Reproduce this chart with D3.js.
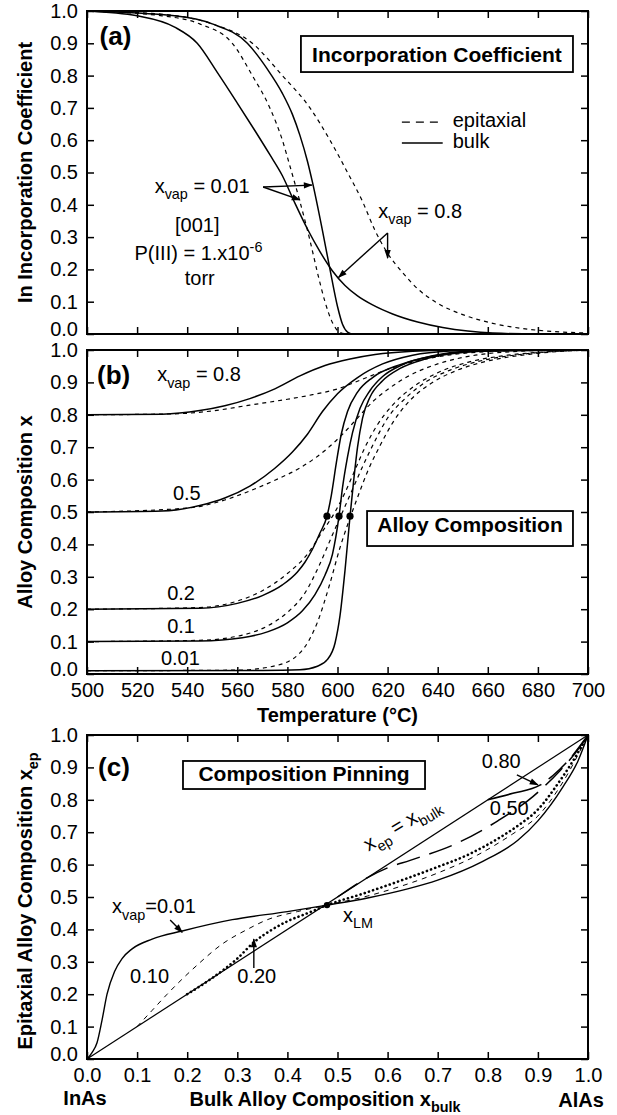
<!DOCTYPE html>
<html>
<head>
<meta charset="utf-8">
<script src="https://cdn.jsdelivr.net/npm/d3@7"></script>
<style>
  body { margin: 0; background: #fff; }
  svg { display: block; font-family: "Liberation Sans", Arial, Helvetica, sans-serif; }
</style>
</head>
<body>
<svg width="617" height="1115"></svg>
<script>
// ---- tick values ----
const tempTicks = d3.range(500, 701, 20);
const fracTicks = d3.range(0, 11).map((i) => i / 10);

// ---- (a) In incorporation coefficient vs temperature [T, value] ----
const incBulk08 = [[500,1],[520,0.985],[535,0.95],[544,0.9],[552,0.81],[560,0.715],[567,0.63],[573,0.555],[578,0.49],[583,0.405],[588,0.325],[593,0.255],[598,0.195],[603,0.15],[608,0.118],[614,0.09],[622,0.062],[632,0.037],[642,0.02],[652,0.009],[662,0.003],[680,0],[700,0]];
const incEpi08 = [[500,1],[530,0.99],[550,0.96],[566,0.9],[578,0.8],[589,0.7],[597,0.6],[604,0.5],[610,0.41],[615,0.32],[620,0.25],[626,0.19],[632,0.14],[640,0.095],[650,0.06],[662,0.033],[676,0.015],[690,0.006],[700,0.003]];
const incBulk001 = [[500,1],[535,0.985],[550,0.96],[564,0.9],[572,0.82],[578,0.745],[582,0.68],[585,0.615],[588,0.535],[590,0.47],[594,0.32],[597,0.2],[600,0.085],[602,0.03],[604,0.006],[606,0],[700,0]];
const incEpi001 = [[500,1],[530,0.985],[545,0.96],[558,0.9],[566,0.8],[573,0.7],[578,0.6],[581,0.52],[585,0.41],[589,0.29],[592,0.19],[595,0.1],[598,0.035],[601,0.005],[604,0],[700,0]];

// ---- (b) alloy composition vs temperature [T, x] ----
const alloyBulk08 = [[500,0.8],[530,0.802],[545,0.813],[555,0.828],[565,0.85],[575,0.88],[585,0.92],[595,0.952],[605,0.972],[615,0.986],[630,0.996],[650,1],[700,1]];
const alloyEpi08 = [[500,0.8],[535,0.803],[550,0.812],[565,0.83],[580,0.848],[590,0.862],[600,0.88],[610,0.91],[620,0.94],[630,0.963],[645,0.985],[660,0.995],[680,1],[700,1]];
const alloyBulk05 = [[500,0.5],[530,0.503],[545,0.52],[555,0.543],[565,0.58],[575,0.635],[582,0.685],[588,0.74],[594,0.81],[600,0.865],[608,0.915],[618,0.957],[630,0.984],[645,0.997],[660,1],[700,1]];
const alloyEpi05 = [[500,0.5],[540,0.512],[555,0.537],[565,0.565],[575,0.598],[585,0.636],[595,0.69],[602,0.74],[608,0.79],[614,0.84],[620,0.878],[628,0.918],[640,0.957],[655,0.984],[670,0.995],[690,1],[700,1]];
const alloyBulk02 = [[500,0.2],[545,0.203],[560,0.218],[570,0.242],[578,0.275],[584,0.315],[587,0.345],[590,0.385],[593,0.435],[595.8,0.487],[597.5,0.55],[599.5,0.65],[601.5,0.74],[604,0.81],[608,0.87],[614,0.915],[625,0.955],[640,0.984],[660,0.998],[700,1]];
const alloyEpi02 = [[500,0.2],[545,0.205],[560,0.225],[570,0.257],[580,0.31],[588,0.37],[594,0.44],[599,0.5],[603,0.56],[607,0.63],[611,0.7],[616,0.77],[622,0.83],[630,0.885],[640,0.93],[652,0.962],[668,0.984],[685,0.995],[700,1]];
const alloyBulk01 = [[500,0.1],[545,0.102],[562,0.112],[572,0.13],[580,0.158],[586,0.195],[591,0.245],[595,0.305],[598,0.37],[600.6,0.487],[602,0.575],[604,0.67],[606,0.745],[609,0.82],[613,0.875],[618,0.918],[626,0.955],[638,0.982],[652,0.996],[700,1]];
const alloyEpi01 = [[500,0.1],[545,0.104],[562,0.12],[572,0.148],[580,0.19],[587,0.25],[593,0.34],[598,0.43],[602,0.5],[606,0.57],[610,0.64],[615,0.72],[620,0.79],[627,0.85],[635,0.9],[645,0.938],[658,0.968],[675,0.988],[700,1]];
const alloyBulk001 = [[500,0.01],[570,0.011],[585,0.013],[592,0.024],[596,0.045],[599,0.095],[601,0.18],[603,0.32],[605,0.487],[606.5,0.6],[608,0.7],[610,0.79],[613,0.855],[618,0.905],[625,0.943],[635,0.972],[650,0.992],[670,1],[700,1]];
const alloyEpi001 = [[500,0.01],[560,0.012],[575,0.025],[585,0.065],[592,0.16],[597,0.28],[601,0.39],[604,0.46],[608,0.545],[612,0.625],[617,0.705],[622,0.775],[629,0.845],[637,0.895],[647,0.935],[660,0.966],[678,0.988],[700,1]];
const pinDots = [[595.8,0.487],[600.6,0.487],[605,0.487]];

// ---- (c) epitaxial vs bulk composition [x_bulk, x_ep] ----
const diagonal = [[0,0],[1,1]];
const pinVap001 = [[0,0],[0.01,0.02],[0.02,0.05],[0.03,0.12],[0.04,0.2],[0.055,0.27],[0.07,0.31],[0.09,0.34],[0.13,0.37],[0.19,0.395],[0.29,0.43],[0.4,0.455],[0.479,0.475],[0.56,0.497],[0.64,0.525],[0.7,0.552],[0.79,0.61],[0.86,0.675],[0.9,0.735],[0.95,0.84],[0.98,0.92],[1,1]];
const pinVap010 = [[0.1,0.1],[0.13,0.15],[0.16,0.2],[0.22,0.29],[0.27,0.355],[0.32,0.4],[0.36,0.43],[0.42,0.455],[0.479,0.475],[0.56,0.503],[0.63,0.535],[0.7,0.574],[0.78,0.63],[0.85,0.695],[0.9,0.75],[0.95,0.855],[1,1]];
const pinVap020 = [[0.2,0.2],[0.25,0.25],[0.3,0.31],[0.333,0.36],[0.37,0.4],[0.4,0.425],[0.44,0.45],[0.479,0.475],[0.55,0.51],[0.625,0.55],[0.7,0.593],[0.76,0.63],[0.82,0.68],[0.86,0.72],[0.9,0.77],[0.94,0.85],[0.97,0.92],[1,1]];
const pinVap050 = [[0.5,0.5],[0.56,0.56],[0.6,0.59],[0.645,0.613],[0.74,0.667],[0.82,0.735],[0.89,0.81],[0.944,0.89],[0.975,0.945],[1,1]];
const pinVap080 = [[0.8,0.8],[0.85,0.82],[0.904,0.845],[0.93,0.875],[0.96,0.92],[1,1]];
const xLM = [[0.479,0.475]];

const FONT = '"Liberation Sans", Arial, Helvetica, sans-serif';
const svg = d3.select("svg");

// arrow head
svg.append("defs").append("marker")
  .attr("id", "arr")
  .attr("viewBox", "0 0 10 10")
  .attr("refX", 9).attr("refY", 5)
  .attr("markerUnits", "userSpaceOnUse")
  .attr("markerWidth", 11).attr("markerHeight", 9)
  .attr("orient", "auto")
  .append("path").attr("d", "M0,1.5L10,5L0,8.5Z").attr("fill", "#000");

// scales
const xT = d3.scaleLinear().domain([500, 700]).range([87, 588]);
const yA = d3.scaleLinear().domain([0, 1]).range([334, 11]);
const yB = d3.scaleLinear().domain([0, 1]).range([674, 350]);
const xC = d3.scaleLinear().domain([0, 1]).range([87, 588]);
const yC = d3.scaleLinear().domain([0, 1]).range([1059, 735]);

function drawAxes(x, y, xTicks, xFmt) {
  const [yb, yt] = y.range();
  const [xl, xr] = x.range();
  const g = svg.append("g");
  const fix = (s) => s.attr("font-size", 20).attr("font-family", FONT);
  g.append("g").attr("transform", `translate(0,${yb})`)
    .call(d3.axisBottom(x).tickValues(xTicks).tickSizeInner(-7).tickSizeOuter(0).tickPadding(9).tickFormat(xFmt || (() => "")))
    .call(fix);
  g.append("g").attr("transform", `translate(0,${yt})`)
    .call(d3.axisTop(x).tickValues(xTicks).tickSizeInner(-7).tickSizeOuter(0).tickFormat(() => ""));
  const left = g.append("g").attr("transform", `translate(${xl},0)`)
    .call(d3.axisLeft(y).tickValues(fracTicks).tickSizeInner(-7).tickSizeOuter(0).tickPadding(9).tickFormat(d3.format(".1f")))
    .call(fix);
  // the 0.0 label sits a little above its tick, as in the print
  left.selectAll(".tick text").filter((d) => d === 0).attr("dy", "0.05em");
  g.append("g").attr("transform", `translate(${xr},0)`)
    .call(d3.axisRight(y).tickValues(fracTicks).tickSizeInner(-7).tickSizeOuter(0).tickFormat(() => ""));
  g.selectAll(".domain").remove();
  g.selectAll(".tick line").attr("stroke", "#000").attr("stroke-width", 1.5);
  g.selectAll(".tick text").attr("fill", "#000");
  g.append("rect")
    .attr("x", xl).attr("y", yt)
    .attr("width", xr - xl).attr("height", yb - yt)
    .attr("fill", "none").attr("stroke", "#000").attr("stroke-width", 2);
}

// text with sub / superscripts: parts are strings or [text, "sub"|"sup"]
function rich(sel, parts, size) {
  let shift = 0;
  parts.forEach((p) => {
    const [txt, kind] = Array.isArray(p) ? p : [p, null];
    const target = kind === "sub" ? size * 0.32 : kind === "sup" ? -size * 0.42 : 0;
    sel.append("tspan")
      .attr("dy", target - shift)
      .attr("font-size", kind ? size * 0.72 : size)
      .text(txt);
    shift = target;
  });
  return sel;
}

function label(x, y, px, py, parts, opt = {}) {
  const size = opt.size || 20;
  const t = svg.append("text")
    .attr("x", x(px)).attr("y", y(py))
    .attr("font-size", size)
    .attr("font-weight", opt.bold ? "bold" : null)
    .attr("text-anchor", opt.anchor || "start");
  return rich(t, parts, size);
}

function boxLabel(x, y, box, text) {
  svg.append("rect")
    .attr("x", x(box[0])).attr("y", y(box[3]))
    .attr("width", x(box[1]) - x(box[0])).attr("height", y(box[2]) - y(box[3]))
    .attr("fill", "#fff").attr("stroke", "#000").attr("stroke-width", 1.8);
  svg.append("text")
    .attr("x", (x(box[0]) + x(box[1])) / 2).attr("y", y(box[4]))
    .attr("text-anchor", "middle").attr("font-size", 21).attr("font-weight", "bold")
    .text(text);
}

function arrows(x, y, list) {
  svg.append("g").selectAll("line").data(list).join("line")
    .attr("x1", (d) => x(d[0][0])).attr("y1", (d) => y(d[0][1]))
    .attr("x2", (d) => x(d[1][0])).attr("y2", (d) => y(d[1][1]))
    .attr("stroke", "#000").attr("stroke-width", 1.4)
    .attr("marker-end", "url(#arr)");
}

function curves(x, y, list) {
  const line = d3.line().x((d) => x(d[0])).y((d) => y(d[1])).curve(d3.curveMonotoneX);
  svg.append("g").selectAll("path").data(list).join("path")
    .attr("d", (d) => line(d.pts))
    .attr("fill", "none").attr("stroke", "#000")
    .attr("stroke-width", (d) => d.w)
    .attr("stroke-dasharray", (d) => d.dash)
    .attr("stroke-linecap", (d) => d.cap || "butt");
}

const solid = 1.5, dashW = 1.2, shortDash = "4,4";

// ================= panel (a) =================
curves(xT, yA, [
  { pts: incBulk08, w: solid, dash: null },
  { pts: incBulk001, w: solid, dash: null },
  { pts: incEpi08, w: dashW, dash: shortDash },
  { pts: incEpi001, w: dashW, dash: shortDash }
]);
drawAxes(xT, yA, tempTicks, null);
boxLabel(xT, yA, [585.4, 694, 0.811, 0.9226, 0.842], "Incorporation Coefficient");
label(xT, yA, 505, 0.895, ["(a)"], { bold: true, size: 26 });
label(xT, yA, 527, 0.437, ["x", ["vap", "sub"], " = 0.01"]);
label(xT, yA, 544, 0.316, ["[001]"], { anchor: "middle" });
label(xT, yA, 544.5, 0.228, ["P(III) = 1.x10", ["-6", "sup"]], { anchor: "middle" });
label(xT, yA, 545, 0.153, ["torr"], { anchor: "middle" });
label(xT, yA, 616.3, 0.36, ["x", ["vap", "sub"], " = 0.8"]);
arrows(xT, yA, [
  [[570.3, 0.455], [589.8, 0.461]],
  [[570.3, 0.455], [585, 0.415]],
  [[620, 0.313], [620, 0.235]],
  [[620, 0.313], [600.4, 0.175]]
]);
// legend
curves(xT, yA, [
  { pts: [[625.7, 0.656], [642, 0.656]], w: dashW, dash: "8,6" },
  { pts: [[625.7, 0.591], [642, 0.591]], w: solid, dash: null }
]);
label(xT, yA, 646, 0.64, ["epitaxial"]);
label(xT, yA, 646, 0.576, ["bulk"]);
svg.append("text")
  .attr("transform", `translate(32,${(yA(0) + yA(1)) / 2}) rotate(-90)`)
  .attr("text-anchor", "middle").attr("font-size", 20).attr("font-weight", "bold")
  .text("In Incorporation Coefficient");

// ================= panel (b) =================
curves(xT, yB, [
  { pts: alloyBulk08, w: solid, dash: null },
  { pts: alloyBulk05, w: solid, dash: null },
  { pts: alloyBulk02, w: solid, dash: null },
  { pts: alloyBulk01, w: solid, dash: null },
  { pts: alloyBulk001, w: solid, dash: null },
  { pts: alloyEpi08, w: dashW, dash: shortDash },
  { pts: alloyEpi05, w: dashW, dash: shortDash },
  { pts: alloyEpi02, w: dashW, dash: shortDash },
  { pts: alloyEpi01, w: dashW, dash: shortDash },
  { pts: alloyEpi001, w: dashW, dash: shortDash }
]);
svg.append("g").selectAll("circle").data(pinDots).join("circle")
  .attr("cx", (d) => xT(d[0])).attr("cy", (d) => yB(d[1])).attr("r", 3.6).attr("fill", "#000");
drawAxes(xT, yB, tempTicks, d3.format("d"));
boxLabel(xT, yB, [611.8, 694, 0.395, 0.503, 0.438], "Alloy Composition");
label(xT, yB, 504, 0.895, ["(b)"], { bold: true, size: 26 });
label(xT, yB, 528, 0.904, ["x", ["vap", "sub"], " = 0.8"]);
label(xT, yB, 534.3, 0.537, ["0.5"]);
label(xT, yB, 532, 0.228, ["0.2"]);
label(xT, yB, 532, 0.127, ["0.1"]);
label(xT, yB, 529.5, 0.028, ["0.01"]);
svg.append("text")
  .attr("transform", `translate(32,${(yB(0) + yB(1)) / 2}) rotate(-90)`)
  .attr("text-anchor", "middle").attr("font-size", 20).attr("font-weight", "bold")
  .text("Alloy Composition x");
svg.append("text")
  .attr("x", (xT(500) + xT(700)) / 2).attr("y", 722)
  .attr("text-anchor", "middle").attr("font-size", 20).attr("font-weight", "bold")
  .text("Temperature (°C)");

// ================= panel (c) =================
curves(xC, yC, [
  { pts: diagonal, w: 1.2, dash: null },
  { pts: pinVap001, w: 1.4, dash: null },
  { pts: pinVap010, w: 1.0, dash: "5,5" },
  { pts: pinVap020, w: 2.6, dash: "0.1,4.3", cap: "round" },
  { pts: pinVap050, w: 1.5, dash: "24,10" },
  { pts: pinVap080, w: 1.5, dash: "56,9,24,9" }
]);
svg.append("g").selectAll("circle").data(xLM).join("circle")
  .attr("cx", (d) => xC(d[0])).attr("cy", (d) => yC(d[1])).attr("r", 3.2).attr("fill", "#000");
drawAxes(xC, yC, fracTicks, d3.format(".1f"));
boxLabel(xC, yC, [0.1916, 0.6747, 0.8333, 0.9198, 0.858], "Composition Pinning");
label(xC, yC, 0.022, 0.873, ["(c)"], { bold: true, size: 26 });
label(xC, yC, 0.05, 0.45, ["x", ["vap", "sub"], "=0.01"]);
label(xC, yC, 0.086, 0.235, ["0.10"]);
label(xC, yC, 0.3, 0.235, ["0.20"]);
label(xC, yC, 0.511, 0.423, ["x", ["LM", "sub"]]);
label(xC, yC, 0.788, 0.898, ["0.80"]);
label(xC, yC, 0.804, 0.753, ["0.50"]);
arrows(xC, yC, [
  [[0.166, 0.429], [0.19, 0.391]],
  [[0.333, 0.281], [0.333, 0.37]],
  [[0.858, 0.877], [0.9, 0.846]]
]);
{
  const cx = xC(0.635), cy = yC(0.708);
  const t = svg.append("text")
    .attr("transform", `translate(${cx},${cy}) rotate(-31)`)
    .attr("text-anchor", "middle").attr("font-size", 20);
  rich(t, ["x", ["ep", "sub"], " = x", ["bulk", "sub"]], 20);
}
svg.append("text")
  .attr("transform", `translate(32,${(yC(0) + yC(1)) / 2 + 4}) rotate(-90)`)
  .attr("text-anchor", "middle").attr("font-size", 20).attr("font-weight", "bold")
  .call((t) => rich(t, ["Epitaxial Alloy Composition x", ["ep", "sub"]], 20));
svg.append("text")
  .attr("x", 325).attr("y", 1106)
  .attr("text-anchor", "middle").attr("font-size", 20).attr("font-weight", "bold")
  .call((t) => rich(t, ["Bulk Alloy Composition x", ["bulk", "sub"]], 20));
svg.append("text").attr("x", xC(0) - 2).attr("y", 1105)
  .attr("text-anchor", "middle").attr("font-size", 20).attr("font-weight", "bold").text("InAs");
svg.append("text").attr("x", xC(1) - 7).attr("y", 1107)
  .attr("text-anchor", "middle").attr("font-size", 20).attr("font-weight", "bold").text("AlAs");
</script>
</body>
</html>
